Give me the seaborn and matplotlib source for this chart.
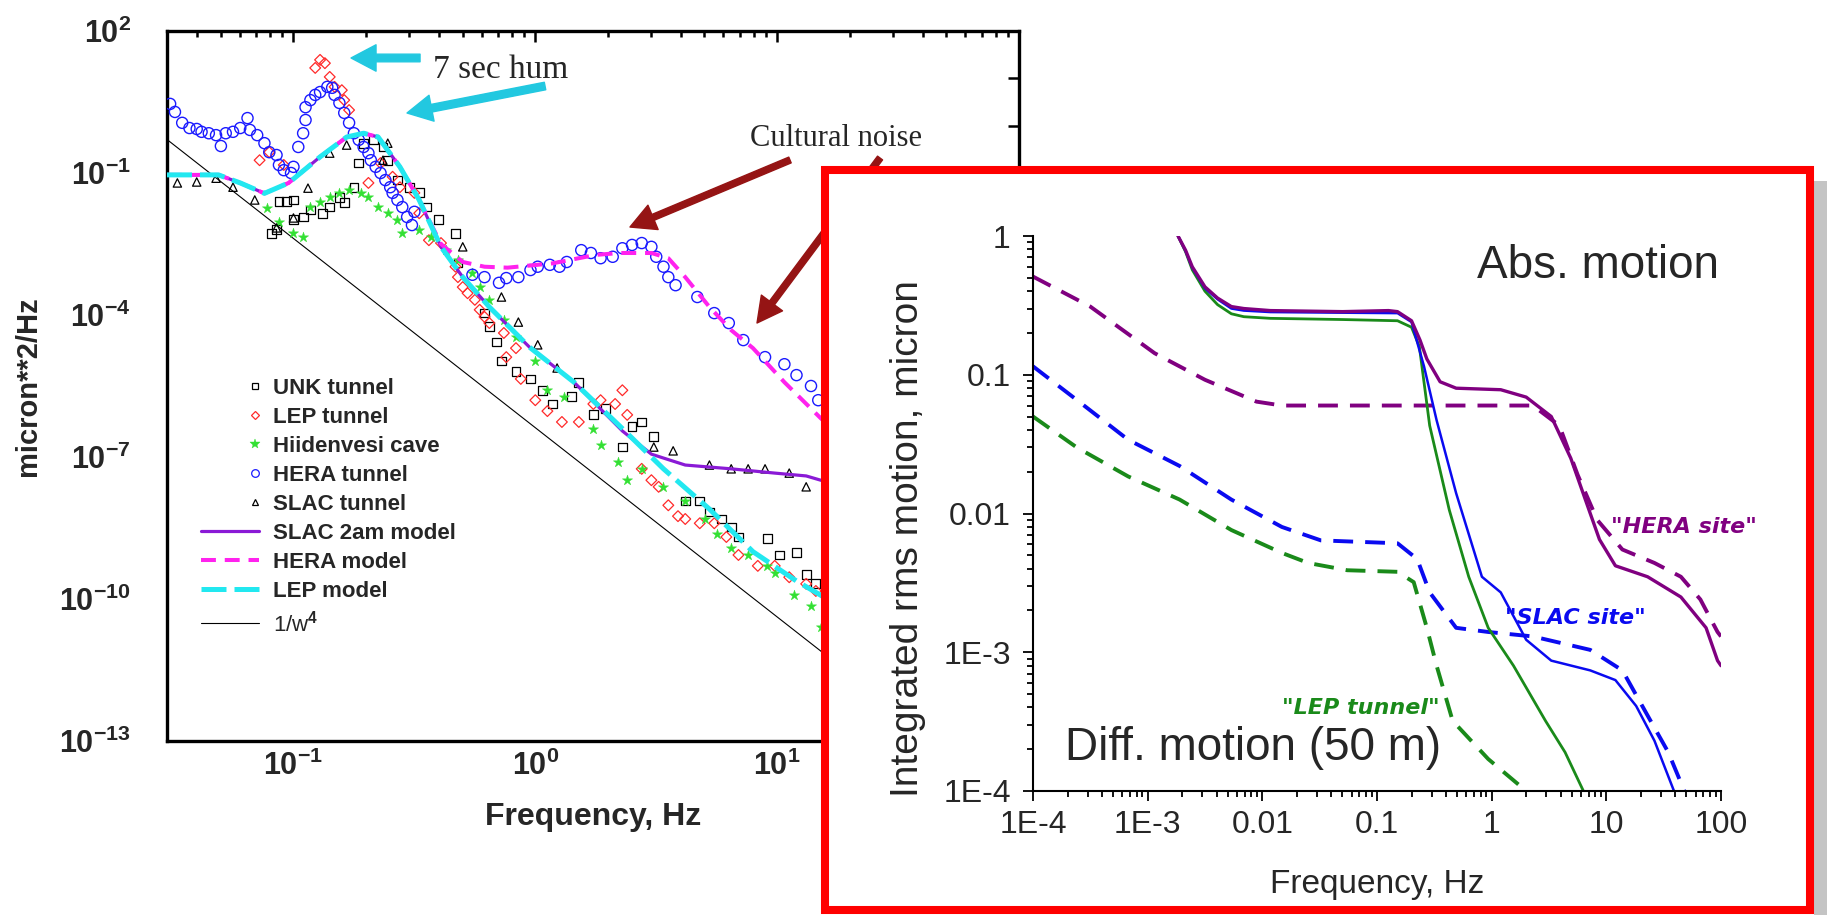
import numpy as np
import pandas as pd
import matplotlib
matplotlib.use("Agg")
import matplotlib.pyplot as plt
import seaborn as sns
from matplotlib.patches import Rectangle
from matplotlib.lines import Line2D
from matplotlib.legend_handler import HandlerLine2DCompound
from matplotlib.ticker import FixedLocator, FixedFormatter, NullLocator, LogLocator, NullFormatter

sns.set_style("white")
plt.rcParams["font.family"] = ["Liberation Sans", "DejaVu Sans"]
plt.rcParams["mathtext.fontset"] = "custom"
plt.rcParams["mathtext.rm"] = "Liberation Sans:bold"
plt.rcParams["mathtext.it"] = "Liberation Sans:bold"
plt.rcParams["mathtext.bf"] = "Liberation Sans:bold"

# ---------------- LEFT PANEL DATA (log10 Hz, log10 micron^2/Hz) ----------------
unk_logf = [-1.09, -1.07, -1.06, -1.03, -1.00, -1.00, -0.96, -0.93, -0.88, -0.85, -0.81, -0.79, -0.75,
            -0.73, -0.71, -0.67, -0.63, -0.61, -0.57, -0.52, -0.48, -0.45, -0.40, -0.33, -0.32, -0.21,
            -0.19, -0.16, -0.14, -0.08, -0.02, 0.03, 0.07, 0.15, 0.18, 0.24, 0.29, 0.36, 0.40, 0.44,
            0.49, 0.62, 0.68, 0.72, 0.77, 0.81, 0.84, 0.96, 1.01, 1.08, 1.12, 1.16]
unk_logv = [-2.27, -2.20, -1.61, -1.61, -1.57, -1.99, -1.93, -1.78, -1.85, -1.72, -1.51, -1.63, -1.30,
            -0.79, -0.37, -0.30, -0.45, -0.73, -1.15, -1.30, -1.42, -1.72, -1.99, -2.27, -2.90, -3.96,
            -4.25, -4.57, -4.97, -5.20, -5.35, -5.59, -5.88, -5.73, -5.42, -6.11, -5.97, -6.79, -6.35, -6.26,
            -6.56, -7.93, -7.93, -8.16, -8.31, -8.48, -8.69, -8.73, -9.07, -9.01, -9.49, -9.68]

lep_logf = [-0.89, -0.91, -0.87, -0.85, -0.83, -0.80, -0.79, -0.77, -1.14, -1.10, -1.04, -0.69, -0.64,
            -0.59, -0.56, -0.50, -0.48, -0.44, -0.39, -0.33, -0.32, -0.30, -0.28, -0.25, -0.23, -0.21,
            -0.19, -0.13, -0.08, -0.12, -0.06, -0.00, 0.05, 0.11, 0.18, 0.24, 0.27, 0.33, 0.36, 0.38,
            0.44, 0.48, 0.51, 0.55, 0.59, 0.62, 0.68, 0.74, 0.79, 0.84, 0.92, 0.99, 1.05, 1.12, 1.16]
lep_logv = [1.39, 1.22, 1.32, 1.03, 0.82, 0.75, 0.54, 0.33, -0.73, -0.56, -0.83, -1.21, -0.79,
            -1.08, -1.30, -1.42, -1.85, -2.42, -2.48, -2.98, -3.20, -3.41, -3.54, -3.68, -3.89, -4.04,
            -4.17, -4.38, -4.70, -4.89, -5.35, -5.80, -6.03, -6.26, -6.26, -5.88, -5.80, -5.88, -5.59, -6.11,
            -7.25, -7.49, -7.63, -8.02, -8.25, -8.31, -8.40, -8.40, -8.69, -9.07, -9.30, -9.30, -9.54, -9.68, -9.83]

hii_logf = [-1.11, -1.06, -1.00, -0.96, -0.93, -0.89, -0.85, -0.81, -0.77, -0.72, -0.69, -0.65, -0.61,
            -0.57, -0.55, -0.48, -0.43, -0.37, -0.32, -0.26, -0.23, -0.19, -0.13, -0.08, 0.00, 0.05,
            0.12, 0.24, 0.27, 0.34, 0.38, 0.44, 0.53, 0.62, 0.70, 0.75, 0.81, 0.88, 0.96, 0.99, 1.07,
            1.14, 1.18]
hii_logv = [-1.74, -2.03, -2.27, -2.35, -1.72, -1.61, -1.51, -1.42, -1.36, -1.42, -1.51, -1.72, -1.85,
            -1.99, -2.27, -2.20, -2.35, -2.63, -2.84, -3.11, -3.41, -3.68, -4.11, -4.47, -4.97, -5.59,
            -5.73, -6.41, -6.75, -7.11, -7.49, -7.26, -7.63, -7.93, -8.31, -8.63, -8.92, -9.07, -9.30, -9.45, -9.92,
            -10.15, -10.59]

hera_logf = [-1.51, -1.49, -1.46, -1.43, -1.40, -1.38, -1.35, -1.32, -1.30, -1.28, -1.25, -1.22, -1.19,
             -1.18, -1.15, -1.12, -1.10, -1.07, -1.06, -1.04, -1.01, -1.00, -0.98, -0.96, -0.95, -0.95,
             -0.93, -0.91, -0.89, -0.86, -0.84, -0.83, -0.81, -0.79, -0.77, -0.75, -0.73, -0.71, -0.69,
             -0.68, -0.66, -0.64, -0.62, -0.60, -0.59, -0.57, -0.55, -0.53, -0.51, -0.50, -0.26, -0.21,
             -0.15, -0.12, -0.07, -0.02, 0.01, 0.06, 0.10, 0.13, 0.19, 0.23, 0.27, 0.32, 0.36, 0.40,
             0.44, 0.48, 0.50, 0.53, 0.55, 0.58, 0.67, 0.74, 0.80, 0.86, 0.95, 1.03, 1.08, 1.14, 1.17]
hera_logv = [0.46, 0.29, 0.06, -0.05, -0.07, -0.13, -0.16, -0.20, -0.43, -0.16, -0.13, -0.05, 0.16,
             -0.09, -0.20, -0.37, -0.56, -0.62, -0.83, -0.94, -1.00, -0.87, -0.45, -0.16, 0.12, 0.39,
             0.54, 0.65, 0.71, 0.82, 0.80, 0.65, 0.48, 0.27, 0.06, -0.16, -0.30, -0.45, -0.58,
             -0.73, -0.87, -1.00, -1.15, -1.30, -1.42, -1.57, -1.72, -1.93, -2.10, -1.82, -3.15, -3.20,
             -3.32, -3.22, -3.20, -3.05, -2.98, -2.94, -2.98, -2.88, -2.63, -2.69, -2.80, -2.77, -2.59, -2.52,
             -2.48, -2.56, -2.77, -2.98, -3.20, -3.37, -3.62, -3.96, -4.17, -4.53, -4.89, -5.04, -5.27, -5.50, -5.80]

slac_logf = [-1.48, -1.40, -1.32, -1.25, -1.16, -1.07, -1.00, -0.94, -0.85, -0.78, -0.63, -0.61, -0.30,
             -0.14, -0.07, 0.01, 0.09, 0.49, 0.57, 0.72, 0.81, 0.88, 0.95, 1.05, 1.12]
slac_logv = [-1.21, -1.19, -1.11, -1.30, -1.57, -2.16, -1.95, -1.32, -0.58, -0.41, -0.73, -0.37, -2.56,
             -3.62, -4.15, -4.63, -5.12, -6.79, -6.87, -7.17, -7.25, -7.25, -7.25, -7.34, -7.63]

lepmodel_logf = [-1.523, -1.31, -1.22, -1.12, -1.02, -0.89, -0.78, -0.71, -0.65, -0.56, -0.48, -0.39,
                 -0.30, -0.19, -0.024, 0.16, 0.35, 0.53, 0.72, 0.90, 1.08, 1.18, 1.25]
lepmodel_logv = [-1.04, -1.04, -1.21, -1.43, -1.21, -0.66, -0.24, -0.16, -0.24, -0.87, -1.57, -2.56,
                 -3.20, -3.83, -4.68, -5.42, -6.35, -7.25, -8.10, -9.00, -9.62, -9.92, -10.15]

heramodel_logf = [-1.523, -1.31, -1.22, -1.12, -1.02, -0.89, -0.78, -0.71, -0.65, -0.56, -0.48, -0.39,
                  -0.30, -0.21, -0.115, 0.07, 0.25, 0.35, 0.48, 0.55, 0.62, 0.72, 0.81, 0.90, 1.03, 1.18, 1.25]
heramodel_logv = [-1.04, -1.04, -1.21, -1.43, -1.21, -0.66, -0.24, -0.16, -0.24, -0.87, -1.57, -2.50,
                  -2.88, -2.98, -3.00, -2.91, -2.73, -2.69, -2.69, -2.80, -3.20, -3.83, -4.32, -4.70, -5.42, -6.18, -6.50]

slacmodel_logf = [-1.523, -1.31, -1.22, -1.12, -1.02, -0.89, -0.78, -0.71, -0.65, -0.56, -0.48, -0.39,
                  -0.30, -0.19, -0.024, 0.16, 0.36, 0.48, 0.62, 0.81, 0.99, 1.12, 1.18, 1.25]
slacmodel_logv = [-1.04, -1.04, -1.21, -1.43, -1.21, -0.66, -0.24, -0.16, -0.24, -0.87, -1.57, -2.56,
                  -3.20, -3.83, -4.68, -5.42, -6.45, -6.94, -7.17, -7.25, -7.34, -7.40, -7.49, -7.55]

w4_freq = [0.03, 100.0]
w4_psd = [0.51, 4.2e-15]

legend_labels = ["UNK tunnel", "LEP tunnel", "Hiidenvesi cave", "HERA tunnel", "SLAC tunnel",
                 "SLAC 2am model", "HERA model", "LEP model", "1/w$^{4}$"]
left_ytick_exp = list(range(-13, 3))
left_ylabel_exp = [2, -1, -4, -7, -10, -13]
left_xticks = [0.1, 1.0, 10.0, 100.0]
left_xticklabels = ["$10^{-1}$", "$10^{0}$", "$10^{1}$", ""]

# ---------------- INSET DATA (Hz, micron) ----------------
hera_abs_f = [0.00184, 0.00214, 0.00245, 0.00316, 0.00407, 0.00537, 0.0069, 0.01175, 0.0501, 0.126, 0.151,
              0.2, 0.237, 0.272, 0.355, 0.49, 1.2, 2.0, 3.31, 4.9, 7.24, 8.71, 12.0, 22.9, 44.7, 74.1,
              93.3, 100.0]
hera_abs_v = [1.0, 0.79, 0.60, 0.43, 0.357, 0.31, 0.30, 0.29, 0.285, 0.29, 0.285,
              0.245, 0.178, 0.13, 0.089, 0.08, 0.078, 0.069, 0.05, 0.025, 0.01, 0.0065, 0.0042, 0.0035,
              0.0025, 0.0015, 0.00087, 0.0008]
slac_abs_f = [0.00184, 0.00214, 0.00245, 0.00316, 0.00407, 0.00537, 0.0069, 0.01175, 0.0501, 0.151, 0.2,
              0.257, 0.331, 0.49, 0.822, 1.2, 2.0, 3.31, 7.24, 12.0, 18.2, 26.3, 38.9, 44.7]
slac_abs_v = [1.0, 0.78, 0.59, 0.42, 0.35, 0.30, 0.29, 0.283, 0.28, 0.278, 0.24,
              0.115, 0.047, 0.014, 0.0035, 0.0027, 0.00123, 0.00087, 0.00074, 0.00063, 0.00041,
              0.00023, 0.0001, 0.00008]
lep_abs_f = [0.00184, 0.00214, 0.00245, 0.00316, 0.00407, 0.00537, 0.0069, 0.01175, 0.0501, 0.151, 0.2,
             0.234, 0.288, 0.427, 0.631, 0.933, 1.55, 2.95, 4.37, 6.31, 7.08]
lep_abs_v = [1.0, 0.77, 0.57, 0.40, 0.32, 0.275, 0.262, 0.255, 0.25, 0.245, 0.22,
             0.16, 0.043, 0.0106, 0.0035, 0.0015, 0.0008, 0.00032, 0.00019, 0.0001, 0.000085]
hera_diff_f = [1e-4, 3.16e-4, 1.15e-3, 3.16e-3, 8.9e-3, 0.0148, 2.29, 3.89, 5.62, 8.32, 13.8, 26.3,
               44.7, 66.1, 93.3, 100.0]
hera_diff_v = [0.51, 0.31, 0.143, 0.092, 0.064, 0.06, 0.06, 0.043, 0.019, 0.009, 0.0055, 0.0044,
               0.0035, 0.0024, 0.0014, 0.0013]
slac_diff_f = [1e-4, 2.4e-4, 6.76e-4, 1.9e-3, 5.37e-3, 0.0148, 0.0324, 0.151, 0.224, 0.288, 0.49, 0.933,
               2.29, 7.24, 13.8, 22.9, 34.7, 47.9, 52.5]
slac_diff_v = [0.115, 0.066, 0.034, 0.022, 0.0126, 0.008, 0.0064, 0.0061, 0.0047, 0.0027, 0.0015, 0.0014,
               0.0013, 0.00104, 0.00074, 0.00035, 0.00019, 0.0001, 0.00008]
lep_diff_f = [1e-4, 2.4e-4, 6.76e-4, 1.9e-3, 5.37e-3, 0.0148, 0.0251, 0.055, 0.151, 0.209, 0.272, 0.331,
              0.457, 0.933, 2.0, 2.24]
lep_diff_v = [0.05, 0.030, 0.0185, 0.0126, 0.0076, 0.0052, 0.0044, 0.0039, 0.0038, 0.0032, 0.0015, 0.0008,
              0.00032, 0.00017, 0.0001, 0.000085]

inset_xticks = [1e-4, 1e-3, 1e-2, 1e-1, 1, 10, 100]
inset_xticklabels = ["1E-4", "1E-3", "0.01", "0.1", "1", "10", "100"]
inset_yticks = [1e-4, 1e-3, 1e-2, 1e-1, 1]
inset_yticklabels = ["1E-4", "1E-3", "0.01", "0.1", "1"]

# ---------------- FIGURE ----------------
W, H = 1827, 915
fig = plt.figure(figsize=(W / 100, H / 100), dpi=100)
fig.patch.set_facecolor("white")

axL = fig.add_axes([167 / W, 1 - 741 / H, 852 / W, 710 / H], zorder=0)
axL.set_xscale("log")
axL.set_yscale("log")

def pw(a):
    return np.power(10.0, np.asarray(a, dtype=float))

# 1/w^4 reference
sns.lineplot(x=w4_freq, y=w4_psd, ax=axL, color="black", lw=0.8, estimator=None, sort=False)

sns.scatterplot(x=pw(unk_logf), y=pw(unk_logv), ax=axL, marker="s", s=40, facecolor="none",
                edgecolor="black", linewidth=0.9, zorder=3)
sns.scatterplot(x=pw(lep_logf), y=pw(lep_logv), ax=axL, marker="D", s=30, facecolor="none",
                edgecolor="#ff2a2a", linewidth=0.9, zorder=3)
sns.scatterplot(x=pw(hii_logf), y=pw(hii_logv), ax=axL, marker="*", s=60, color="#33e033",
                edgecolor="#33e033", linewidth=0.3, zorder=3)
sns.scatterplot(x=pw(hera_logf), y=pw(hera_logv), ax=axL, marker="o", s=64, facecolor="none",
                edgecolor="#1a1aff", linewidth=1.0, zorder=3)
sns.scatterplot(x=pw(slac_logf), y=pw(slac_logv), ax=axL, marker="^", s=36, facecolor="none",
                edgecolor="black", linewidth=0.9, zorder=3)

sns.lineplot(x=pw(slacmodel_logf), y=pw(slacmodel_logv), ax=axL, color="#8a1ad6", lw=2.3,
             estimator=None, sort=False, zorder=4)
sns.lineplot(x=pw(heramodel_logf), y=pw(heramodel_logv), ax=axL, color="#ff22ee", lw=2.9,
             estimator=None, sort=False, zorder=5)
axL.lines[-1].set_dashes([3.7, 2.2])
sns.lineplot(x=pw(lepmodel_logf), y=pw(lepmodel_logv), ax=axL, color="#22e8f0", lw=3.6,
             estimator=None, sort=False, zorder=6)
axL.lines[-1].set_dashes([5.0, 1.6])

axL.set_xlim(0.03, 100)
axL.set_ylim(1e-13, 1e2)

axL.yaxis.set_major_locator(FixedLocator([10.0 ** k for k in left_ytick_exp]))
axL.yaxis.set_major_formatter(FixedFormatter(
    ["$10^{%d}$" % k if k in left_ylabel_exp else "" for k in left_ytick_exp]))
axL.yaxis.set_minor_locator(NullLocator())
axL.xaxis.set_major_locator(FixedLocator(left_xticks))
axL.xaxis.set_major_formatter(FixedFormatter(left_xticklabels))
axL.xaxis.set_minor_locator(LogLocator(base=10, subs=np.arange(2, 10)))
axL.xaxis.set_minor_formatter(NullFormatter())
axL.tick_params(which="both", direction="in", top=True, right=True, color="black", width=1.8)
axL.tick_params(which="major", length=8)
axL.tick_params(which="minor", length=4)
axL.tick_params(axis="x", which="major", labelsize=22, pad=7)
axL.tick_params(axis="y", which="major", labelsize=22, pad=26)
for sp in axL.spines.values():
    sp.set_linewidth(2.4)
    sp.set_color("black")

axL.set_xlabel("Frequency, Hz", fontsize=23, fontweight="bold")
axL.xaxis.label.set_va("center")
axL.xaxis.set_label_coords(0.5, -0.107)
axL.set_ylabel("micron**2/Hz", fontsize=21, fontweight="bold")
axL.yaxis.label.set_va("center")
axL.yaxis.set_label_coords(-0.163, 0.5)


class RightMarkerHandler(HandlerLine2DCompound):
    def get_xdata(self, legend, xdescent, ydescent, width, height, fontsize):
        xd = np.array([-xdescent, -xdescent + width])
        return xd, np.array([-xdescent + width - 3.0])


mk = dict(ls="none", mew=0.9)
handles = [
    Line2D([], [], marker="s", ms=5, mfc="none", mec="black", **mk),
    Line2D([], [], marker="D", ms=4, mfc="none", mec="#ff2a2a", **mk),
    Line2D([], [], marker="*", ms=7, mfc="#33e033", mec="#33e033", ls="none", mew=0.3),
    Line2D([], [], marker="o", ms=5.5, mfc="none", mec="#1a1aff", **mk),
    Line2D([], [], marker="^", ms=5, mfc="none", mec="black", **mk),
    Line2D([], [], color="#8a1ad6", lw=2.3),
    Line2D([], [], color="#ff22ee", lw=2.9, dashes=[3.7, 2.2]),
    Line2D([], [], color="#22e8f0", lw=3.6, dashes=[5.0, 1.6]),
    Line2D([], [], color="black", lw=0.8),
]
hmap = {h: RightMarkerHandler() for h in handles[:5]}
leg = axL.legend(handles, legend_labels, loc="upper left", bbox_to_anchor=(0.040, 0.511),
                 frameon=False, prop={"weight": "bold", "size": 16}, handlelength=2.6,
                 handletextpad=0.63, labelspacing=0.36, borderpad=0, borderaxespad=0,
                 handler_map=hmap)
leg.get_texts()[-1].set_fontweight("normal")

# annotations on left panel
axL.text(0.392, 0.945, "7 sec hum", transform=axL.transAxes, family="Liberation Serif",
         fontsize=24, ha="center", va="center")
axL.text(0.785, 0.849, "Cultural noise", transform=axL.transAxes, family="Liberation Serif",
         fontsize=22, ha="center", va="center")
cy = "#22c8e0"
dr = "#951414"
for tail, tip, col in [((0.297, 0.962), (0.216, 0.962), cy),
                       ((0.4437, 0.9225), (0.2817, 0.8845), cy),
                       ((0.7312, 0.8183), (0.5434, 0.7239), dr),
                       ((0.8369, 0.8211), (0.6925, 0.5887), dr)]:
    w = 5.5 if col == cy else 4.5
    axL.annotate("", xy=tip, xytext=tail, xycoords="axes fraction", textcoords="axes fraction",
                 arrowprops=dict(width=w, headwidth=19, headlength=18, color=col, shrink=0),
                 annotation_clip=False, zorder=7)

# gray shadow and red frame of inset
fig.add_artist(Rectangle((1814 / W, 0), 13 / W, (915 - 181) / H, transform=fig.transFigure,
                         facecolor="#c4c4c4", edgecolor="none", zorder=1.5))
fig.add_artist(Rectangle((825 / W, 1 - 910 / H), 985 / W, 740 / H, transform=fig.transFigure,
                         facecolor="white", edgecolor="#ff0000", lw=5.8, zorder=2))

# ---------------- INSET ----------------
axI = fig.add_axes([1033 / W, 1 - 791 / H, 688 / W, 555 / H], zorder=3)
axI.patch.set_alpha(0)
axI.set_xscale("log")
axI.set_yscale("log")

purple, blue, green = "#800080", "#0a0af0", "#1a8a1a"
sns.lineplot(x=hera_diff_f, y=hera_diff_v, ax=axI, color=purple, lw=2.8, estimator=None, sort=False)
axI.lines[-1].set_dashes([5.1, 3.1])
sns.lineplot(x=slac_diff_f, y=slac_diff_v, ax=axI, color=blue, lw=2.8, estimator=None, sort=False)
axI.lines[-1].set_dashes([5.1, 3.1])
sns.lineplot(x=lep_diff_f, y=lep_diff_v, ax=axI, color=green, lw=2.8, estimator=None, sort=False)
axI.lines[-1].set_dashes([5.1, 3.1])
sns.lineplot(x=lep_abs_f, y=lep_abs_v, ax=axI, color=green, lw=2.0, estimator=None, sort=False)
sns.lineplot(x=slac_abs_f, y=slac_abs_v, ax=axI, color=blue, lw=1.8, estimator=None, sort=False)
sns.lineplot(x=hera_abs_f, y=hera_abs_v, ax=axI, color=purple, lw=2.4, estimator=None, sort=False)

axI.set_xlim(1e-4, 100)
axI.set_ylim(1e-4, 1)
axI.xaxis.set_major_locator(FixedLocator(inset_xticks))
axI.xaxis.set_major_formatter(FixedFormatter(inset_xticklabels))
axI.yaxis.set_major_locator(FixedLocator(inset_yticks))
axI.yaxis.set_major_formatter(FixedFormatter(inset_yticklabels))
axI.xaxis.set_minor_locator(LogLocator(base=10, subs=np.arange(2, 10)))
axI.yaxis.set_minor_locator(LogLocator(base=10, subs=np.arange(2, 10)))
axI.xaxis.set_minor_formatter(NullFormatter())
axI.yaxis.set_minor_formatter(NullFormatter())
axI.tick_params(which="both", direction="out", color="black", width=1.3, left=True, bottom=True)
axI.tick_params(which="major", length=7, labelsize=23)
axI.tick_params(which="minor", length=4)
axI.tick_params(axis="y", which="major", pad=9)
axI.tick_params(axis="x", which="major", pad=7)
for s in ["top", "right"]:
    axI.spines[s].set_visible(False)
for s in ["left", "bottom"]:
    axI.spines[s].set_linewidth(1.5)
    axI.spines[s].set_color("black")

axI.set_xlabel("Frequency, Hz", fontsize=24)
axI.xaxis.label.set_va("center")
axI.xaxis.set_label_coords(0.5, -0.168)
axI.set_ylabel("Integrated rms motion, micron", fontsize=28)
axI.yaxis.label.set_va("center")
axI.yaxis.set_label_coords(-0.182, 0.454)

axI.text(0.821, 0.924, "Abs. motion", transform=axI.transAxes, fontsize=33, ha="center", va="baseline")
axI.text(0.320, 0.056, "Diff. motion (50 m)", transform=axI.transAxes, fontsize=33, ha="center",
         va="baseline")
lab_kw = dict(fontsize=16, fontweight="bold", fontstyle="italic", family="DejaVu Sans",
              ha="center", va="center")
axI.text(47.4, 0.008, '"HERA site"', color=purple, **lab_kw)
axI.text(5.42, 0.00177, '"SLAC site"', color=blue, **lab_kw)
axI.text(0.0724, 0.000397, '"LEP tunnel"', color=green, **lab_kw)

fig.savefig("out.png", dpi=100, facecolor="white")
